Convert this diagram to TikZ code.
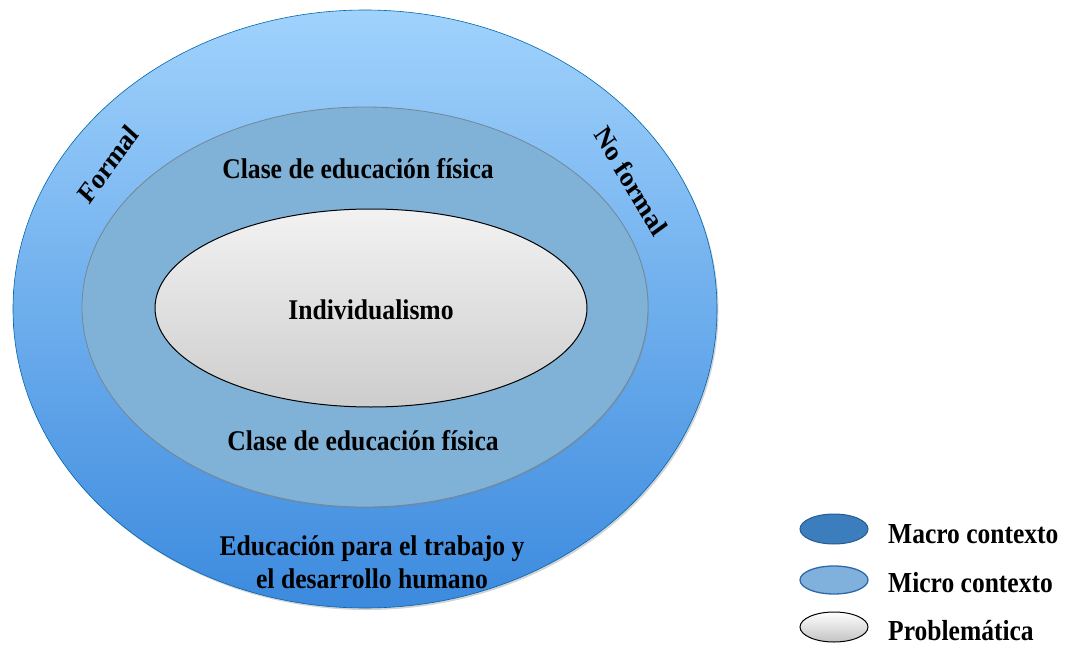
\documentclass[tikz,border=0pt]{standalone}
\usepackage{fontspec}
\setmainfont{Liberation Serif}
\usetikzlibrary{shapes.geometric,shadows}
\begin{document}
\begin{tikzpicture}[x=1pt,y=-1pt,
  lab/.style={font=\bfseries\fontsize{28.5}{33}\selectfont, xscale=0.9, align=center, inner sep=0pt},
  leg/.style={font=\bfseries\fontsize{29}{33}\selectfont, xscale=0.88, inner sep=0pt, anchor=base west},
  ell/.style={ellipse, inner sep=0pt}
]
\useasboundingbox (0,0) rectangle (1068,658);
% outer ellipse (macro context)
\node[ell, minimum width=704pt, minimum height=598pt, draw=blue!45!black!60!cyan, line width=0.6pt,
      top color={rgb,255:red,160;green,210;blue,252}, bottom color={rgb,255:red,60;green,138;blue,222},
      drop shadow={shadow xshift=1.5pt, shadow yshift=-2pt, opacity=0.35}] (outer) at (365,309) {};
% middle ellipse (micro context)
\node[ell, minimum width=566pt, minimum height=400pt, draw={rgb,255:red,115;green,135;blue,150}, line width=0.8pt,
      fill={rgb,255:red,128;green,178;blue,216},
      drop shadow={shadow xshift=1pt, shadow yshift=-1.5pt, opacity=0.25}] (middle) at (365,307) {};
% inner ellipse (problem)
\node[ell, minimum width=432pt, minimum height=198pt, draw=black, line width=1pt,
      top color={rgb,255:red,242;green,242;blue,242}, bottom color={rgb,255:red,205;green,205;blue,205}] (inner) at (371,308) {};

\node[lab, anchor=base] (ind) at (371,319) {Individualismo};
\node[lab, anchor=base] (clasetop) at (358,178) {Clase de educación física};
\node[lab, anchor=base] (clasebot) at (363,450) {Clase de educación física};
\node[lab, anchor=base] (edu1) at (372,555) {Educación para el trabajo y};
\node[lab, anchor=base] (edu2) at (372,588) {el desarrollo humano};
\node[lab, rotate=51] (formal) at (108,164) {Formal};
\node[lab, rotate=-57] (noformal) at (631,181) {No formal};

% legend
\node[ell, minimum width=68pt, minimum height=30pt, draw={rgb,255:red,40;green,92;blue,145}, line width=1pt,
      fill={rgb,255:red,60;green,125;blue,190}] (lmacro) at (834,529) {};
\node[ell, minimum width=68pt, minimum height=28pt, draw={rgb,255:red,45;green,105;blue,170}, line width=1.3pt,
      fill={rgb,255:red,128;green,176;blue,220}] (lmicro) at (834,580) {};
\node[ell, minimum width=68pt, minimum height=30pt, draw=black, line width=1pt,
      top color=white, bottom color={rgb,255:red,195;green,195;blue,195}] (lprob) at (834,627) {};
\node[leg] (tmacro) at (888,543) {Macro contexto};
\node[leg] (tmicro) at (888,592) {Micro contexto};
\node[leg] (tprob) at (888,640) {Problemática};
\end{tikzpicture}
\end{document}
